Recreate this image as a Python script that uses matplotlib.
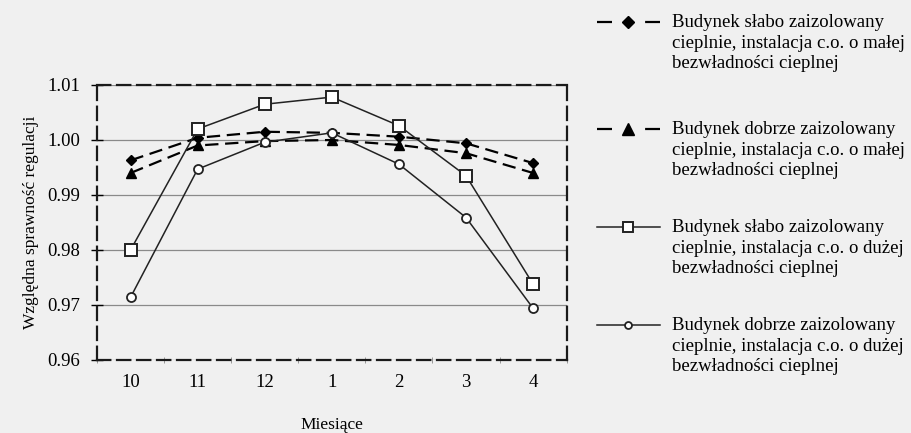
import matplotlib
matplotlib.use('Agg')
import matplotlib.pyplot as plt
from matplotlib.lines import Line2D
from matplotlib.ticker import FixedLocator

# ── data ──
months = ['10', '11', '12', '1', '2', '3', '4']
slabo_mala   = [0.9963, 1.0004, 1.0015, 1.0013, 1.0006, 0.9994, 0.9958]
dobrze_mala  = [0.9940, 0.9990, 0.9998, 1.0000, 0.9991, 0.9976, 0.9940]
slabo_duza   = [0.9800, 1.0020, 1.0065, 1.0078, 1.0026, 0.9935, 0.9738]
dobrze_duza  = [0.9714, 0.9947, 0.9996, 1.0013, 0.9956, 0.9859, 0.9694]
labels = ['Budynek słabo zaizolowany\ncieplnie, instalacja c.o. o małej\nbezwładności cieplnej',
          'Budynek dobrze zaizolowany\ncieplnie, instalacja c.o. o małej\nbezwładności cieplnej',
          'Budynek słabo zaizolowany\ncieplnie, instalacja c.o. o dużej\nbezwładności cieplnej',
          'Budynek dobrze zaizolowany\ncieplnie, instalacja c.o. o dużej\nbezwładności cieplnej']
yticks = [0.96, 0.97, 0.98, 0.99, 1.00, 1.01]

plt.rcParams['font.family'] = ['Liberation Serif', 'DejaVu Serif']
BG = '#f0f0f0'

fig = plt.figure(figsize=(9.11, 4.33), dpi=100, facecolor=BG)
ax = fig.add_axes([0.1065, 0.1686, 0.5155, 0.6351], facecolor=BG)

x = list(range(len(months)))
styles = [
    dict(color='black', lw=1.6, dashes=(6, 3), marker='D', ms=5, mfc='black', mec='black'),
    dict(color='black', lw=1.6, dashes=(6, 3), marker='^', ms=6.5, mfc='black', mec='black'),
    dict(color='#222222', lw=1.1, ls='-', marker='s', ms=9, mfc='white', mec='#222222', mew=1.4),
    dict(color='#222222', lw=1.1, ls='-', marker='o', ms=6.5, mfc='white', mec='#222222', mew=1.3),
]
series = [slabo_mala, dobrze_mala, slabo_duza, dobrze_duza]
for ys, st in zip(series, styles):
    ax.plot(x, ys, zorder=3, **st)

ax.set_xlim(-0.5, 6.5)
ax.set_ylim(0.96, 1.01)
ax.set_yticks(yticks)
ax.set_yticklabels([f'{v:.2f}' for v in yticks], fontsize=13.5)
ax.set_xticks(x)
ax.set_xticklabels(months, fontsize=13.5)
ax.xaxis.set_minor_locator(FixedLocator([i + 0.5 for i in range(-1, 7)]))
ax.tick_params(axis='x', which='major', length=0, pad=10)
ax.tick_params(axis='x', which='minor', length=4, direction='inout', color='#888888')
ax.tick_params(axis='y', length=8, direction='inout', width=1.0, pad=8)

ax.grid(axis='y', color='#8a8a8a', lw=0.9, zorder=1)
for s in ax.spines.values():
    s.set_linestyle((0, (6, 3)))
    s.set_linewidth(1.6)
    s.set_color('#1a1a1a')

ax.set_ylabel('Względna sprawność regulacji', fontsize=12.5, labelpad=6)
ax.set_xlabel('Miesiące', fontsize=12.5, labelpad=19)

# ── legend drawn on the figure ──
H = 433.0
W = 911.0
entry_y = [22, 129, 227, 325]
for i, (lab, st, yc) in enumerate(zip(labels, styles, entry_y)):
    yf = 1 - yc / H
    hs = dict(st)
    if i < 2:
        hs['dashes'] = (6.75, 14.9)
        hs['ms'] = st['ms'] + 1.5
    else:
        hs['ms'] = st['ms'] - 1.5
    handle = Line2D([597 / W, 628 / W, 660 / W], [yf, yf, yf], transform=fig.transFigure,
                    markevery=[1], **hs)
    fig.add_artist(handle)
    fig.text(672 / W, yf + 8 / H, lab, fontsize=13.5, va='top', ha='left', linespacing=1.28,
             transform=fig.transFigure)

fig.savefig('out.png', dpi=100, facecolor=BG)
